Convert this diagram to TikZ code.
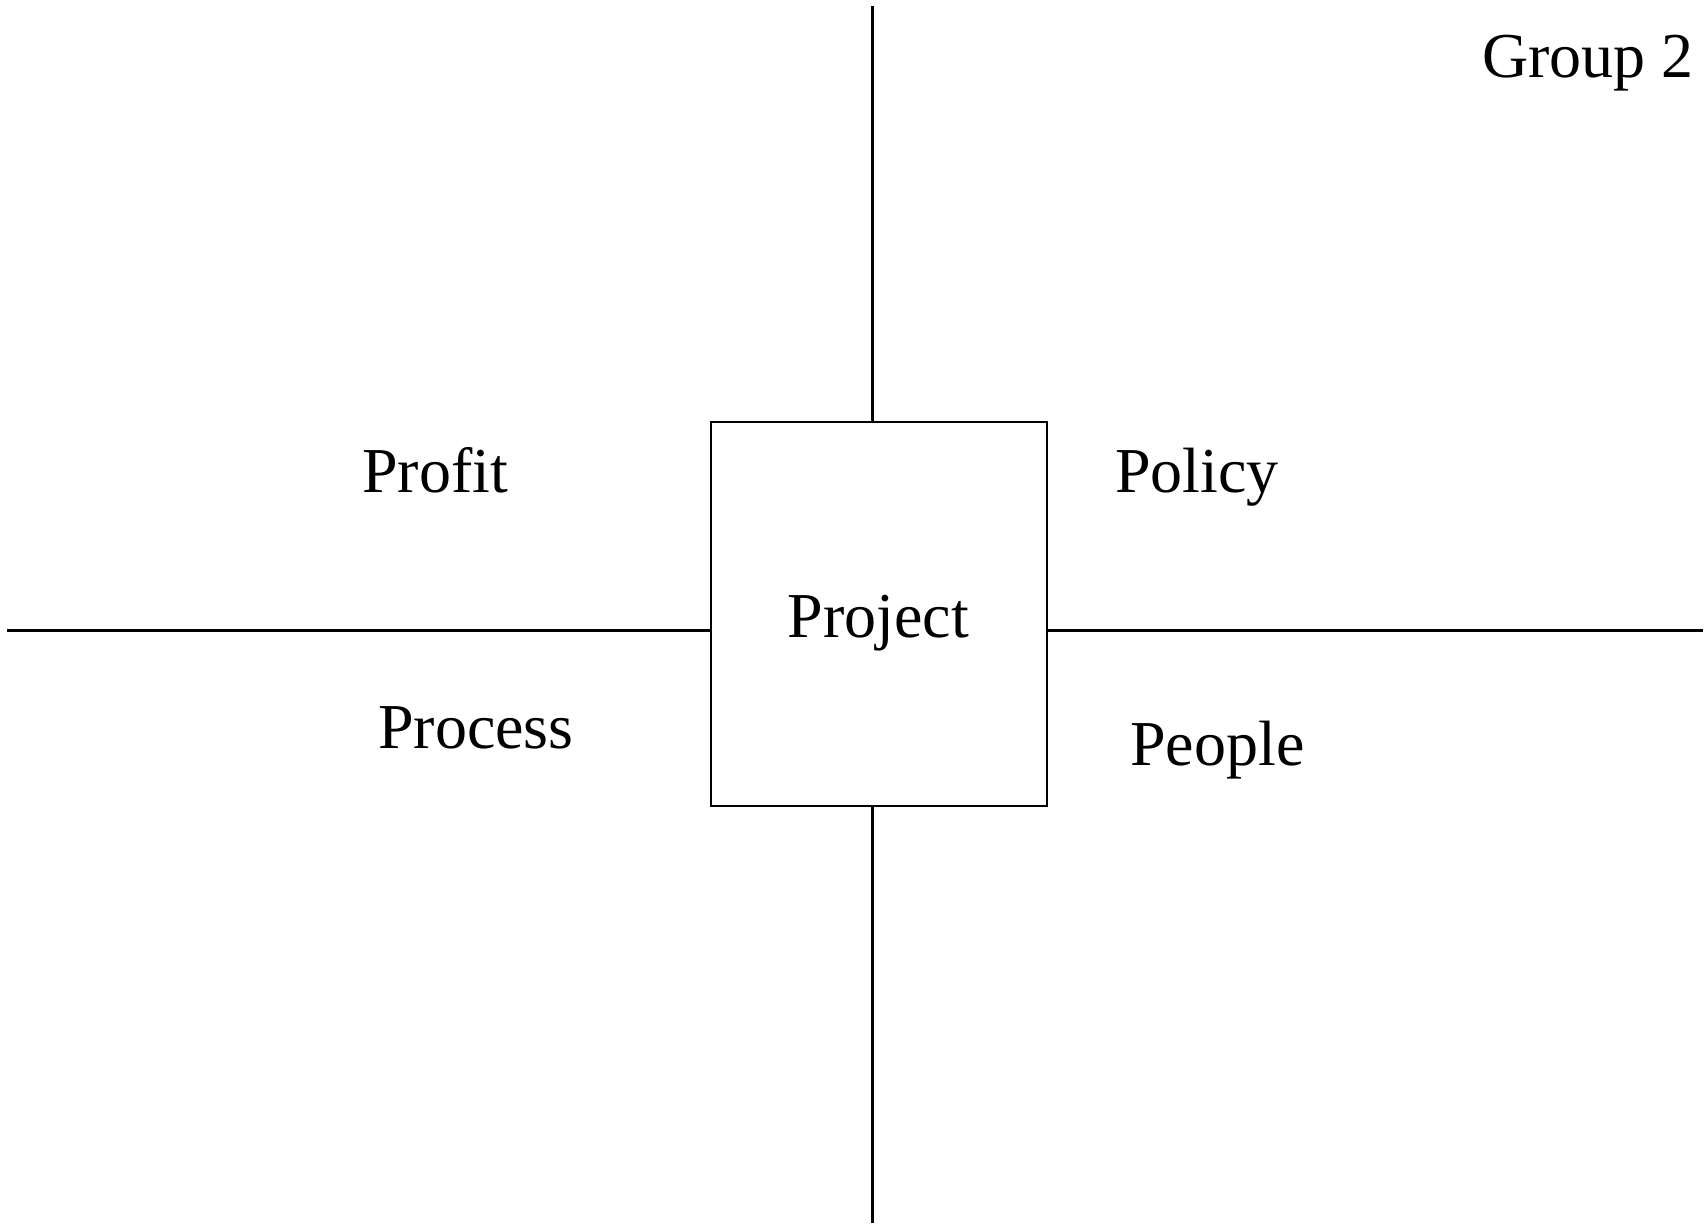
\documentclass[tikz,border=0pt]{standalone}
\usepackage{fontspec}
\setmainfont{Liberation Serif}
\begin{document}
\begin{tikzpicture}[x=1pt,y=-1pt,
    axis/.style={line width=3pt},
    word/.style={anchor=base west,inner sep=0pt,font=\fontsize{64}{72}\selectfont}]
  \useasboundingbox (0,0) rectangle (1705,1225);
  % centre box and its label
  \node[draw,line width=2pt,minimum width=336pt,minimum height=384pt,inner sep=0pt] (box) at (879,614) {};
  \node[word,anchor=base] (project) at (878.5,637) {Project};
  % ends of the two axes
  \coordinate (top) at (872,6);
  \coordinate (bottom) at (872,1223);
  \coordinate (left) at (7,630);
  \coordinate (right) at (1703,630);
  \begin{scope}[axis]
    \draw (top) -- (top |- box.north);
    \draw (bottom) -- (bottom |- box.south);
    \draw (left) -- (left -| box.west);
    \draw (right) -- (right -| box.east);
  \end{scope}
  % quadrant labels
  \node[word] (profit) at (362,492.7) {Profit};
  \node[word] (policy) at (1115,492.7) {Policy};
  \node[word] (process) at (378,748.3) {Process};
  \node[word] (people) at (1130,765) {People};
  \node[word] (group) at (1482,78) {Group 2};
\end{tikzpicture}
\end{document}
